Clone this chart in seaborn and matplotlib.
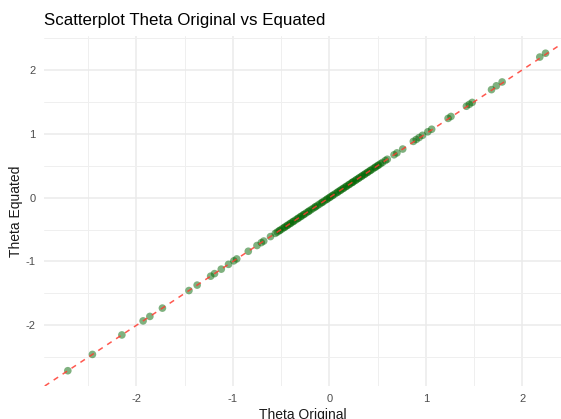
import numpy as np
import pandas as pd
import matplotlib
matplotlib.use("Agg")
import matplotlib.pyplot as plt
import seaborn as sns
from matplotlib.ticker import MultipleLocator

# theta values (original vs equated)
theta_low = [-2.71, -2.455, -2.15, -1.93, -1.86, -1.73, -1.455, -1.37, -1.23, -1.19,
             -1.12, -1.045, -0.99, -0.96, -0.84, -0.75, -0.705, -0.68, -0.61, -0.56]
theta_mid = [-0.54, -0.52, -0.51, -0.49, -0.47, -0.46, -0.44, -0.43, -0.41, -0.40,
             -0.38, -0.37, -0.35, -0.33, -0.32, -0.30, -0.29, -0.27, -0.26, -0.24,
             -0.22, -0.21, -0.19, -0.17, -0.15, -0.14, -0.12, -0.10, -0.08, -0.07,
             -0.05, -0.03, -0.02, 0.00, 0.01, 0.03, 0.04, 0.06, 0.08, 0.09,
             0.11, 0.12, 0.14, 0.15, 0.17, 0.18, 0.20, 0.21, 0.23, 0.24,
             0.25, 0.27, 0.28, 0.30, 0.31, 0.33, 0.34, 0.36, 0.37, 0.39,
             0.40, 0.42, 0.43, 0.45, 0.47, 0.48, 0.50, 0.51, 0.53, 0.55]
theta_high = [0.58, 0.60, 0.67, 0.70, 0.76, 0.87, 0.90, 0.93, 0.965, 1.02,
              1.06, 1.23, 1.26, 1.42, 1.45, 1.48, 1.68, 1.73, 1.79, 2.18, 2.24]

theta_original = theta_low + theta_mid + theta_high
# equated values sit on the identity line, a hair above it in the upper tail
equated_shift = [0.0] * (len(theta_low) + len(theta_mid)) + \
                [0.0, 0.0, 0.0, 0.0, 0.0, 0.01, 0.01, 0.01, 0.01, 0.01,
                 0.01, 0.01, 0.01, 0.01, 0.01, 0.01, 0.01, 0.02, 0.02, 0.02, 0.02]
theta_equated = [round(a + b, 3) for a, b in zip(theta_original, equated_shift)]

df = pd.DataFrame({"Theta Original": theta_original, "Theta Equated": theta_equated})

sns.set_theme(style="whitegrid")
plt.rcParams["font.family"] = ["Liberation Sans", "DejaVu Sans"]
plt.rcParams["axes.unicode_minus"] = False

fig = plt.figure(figsize=(5.61, 4.19), dpi=100)
ax = fig.add_axes([0.0784, 0.0788, 1 - 0.0784, 0.914 - 0.0788])

sns.scatterplot(data=df, x="Theta Original", y="Theta Equated", ax=ax,
                color="darkgreen", alpha=0.5, s=30, edgecolor="none", zorder=2)
# reference line y = x
ax.axline((0, 0), slope=1, color="#ff3b30", lw=1.1, ls=(0, (3.5, 3.5)), alpha=0.85, zorder=3)

ax.set_xlim(-2.957, 2.40)
ax.set_ylim(-2.949, 2.529)
ax.xaxis.set_major_locator(MultipleLocator(1))
ax.yaxis.set_major_locator(MultipleLocator(1))
ax.xaxis.set_minor_locator(MultipleLocator(0.5))
ax.yaxis.set_minor_locator(MultipleLocator(0.5))
ax.grid(which="major", color="#EBEBEB", lw=1.1)
ax.grid(which="minor", color="#EFEFEF", lw=0.7)
ax.set_axisbelow(True)
for s in ax.spines.values():
    s.set_visible(False)
ax.tick_params(which="both", length=0, labelsize=8, labelcolor="#4D4D4D")
ax.tick_params(axis="x", pad=6)
ax.tick_params(axis="y", pad=6)

ax.set_xlabel("Theta Original", fontsize=10, color="#1a1a1a", labelpad=3)
ax.set_ylabel("Theta Equated", fontsize=10, color="#1a1a1a", labelpad=2)
ax.set_title("Scatterplot Theta Original vs Equated", fontsize=12.2, loc="left",
             color="black", pad=8)

fig.savefig("out.png", dpi=100)
